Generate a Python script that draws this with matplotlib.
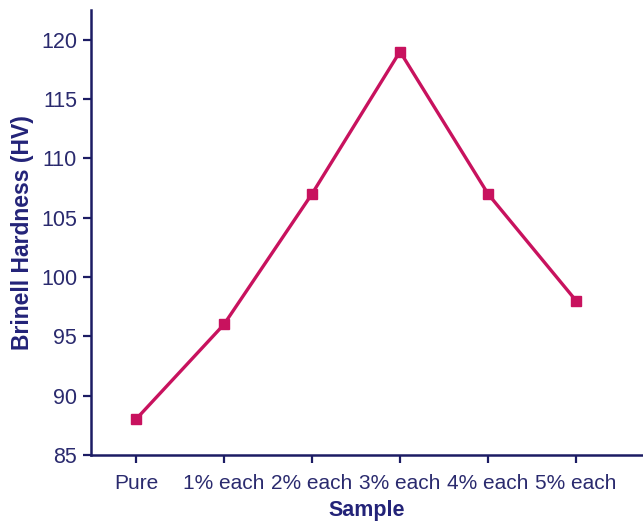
import matplotlib
matplotlib.use("Agg")
import matplotlib.pyplot as plt

samples = ["Pure", "1% each", "2% each", "3% each", "4% each", "5% each"]
hardness = [88, 96, 107, 119, 107, 98]
y_ticks = [85, 90, 95, 100, 105, 110, 115, 120]

plt.rcParams["font.family"] = ["Liberation Sans", "DejaVu Sans"]

navy = "#1c1c64"
line_col = "#c8125e"

fig = plt.figure(figsize=(6.43, 5.22), dpi=100)
ax = fig.add_axes([0.1415, 0.1284, 0.8585, 0.8524])

x = list(range(len(samples)))
ax.plot(x, hardness, color=line_col, lw=2.4, marker="s", ms=7,
        markerfacecolor=line_col, markeredgecolor=line_col)

ax.set_xlim(-0.51, 5.76)
ax.set_ylim(85, 122.5)
ax.set_xticks(x)
ax.set_xticklabels(samples)
ax.set_yticks(y_ticks)

for s in ["top", "right"]:
    ax.spines[s].set_visible(False)
for s in ["left", "bottom"]:
    ax.spines[s].set_color(navy)
    ax.spines[s].set_linewidth(1.8)

ax.tick_params(axis="both", colors=navy, labelcolor="#2a2a6e",
               width=1.6, length=6, pad=4)
ax.tick_params(axis="x", labelsize=15, pad=8)
ax.tick_params(axis="y", labelsize=15.5)
ax.set_ylabel("Brinell Hardness (HV)", fontsize=16.5, fontweight="bold", color="#232378", labelpad=5)
ax.set_xlabel("Sample", fontsize=15.5, fontweight="bold", color="#232378", labelpad=5)

fig.savefig("out.png", dpi=100)
